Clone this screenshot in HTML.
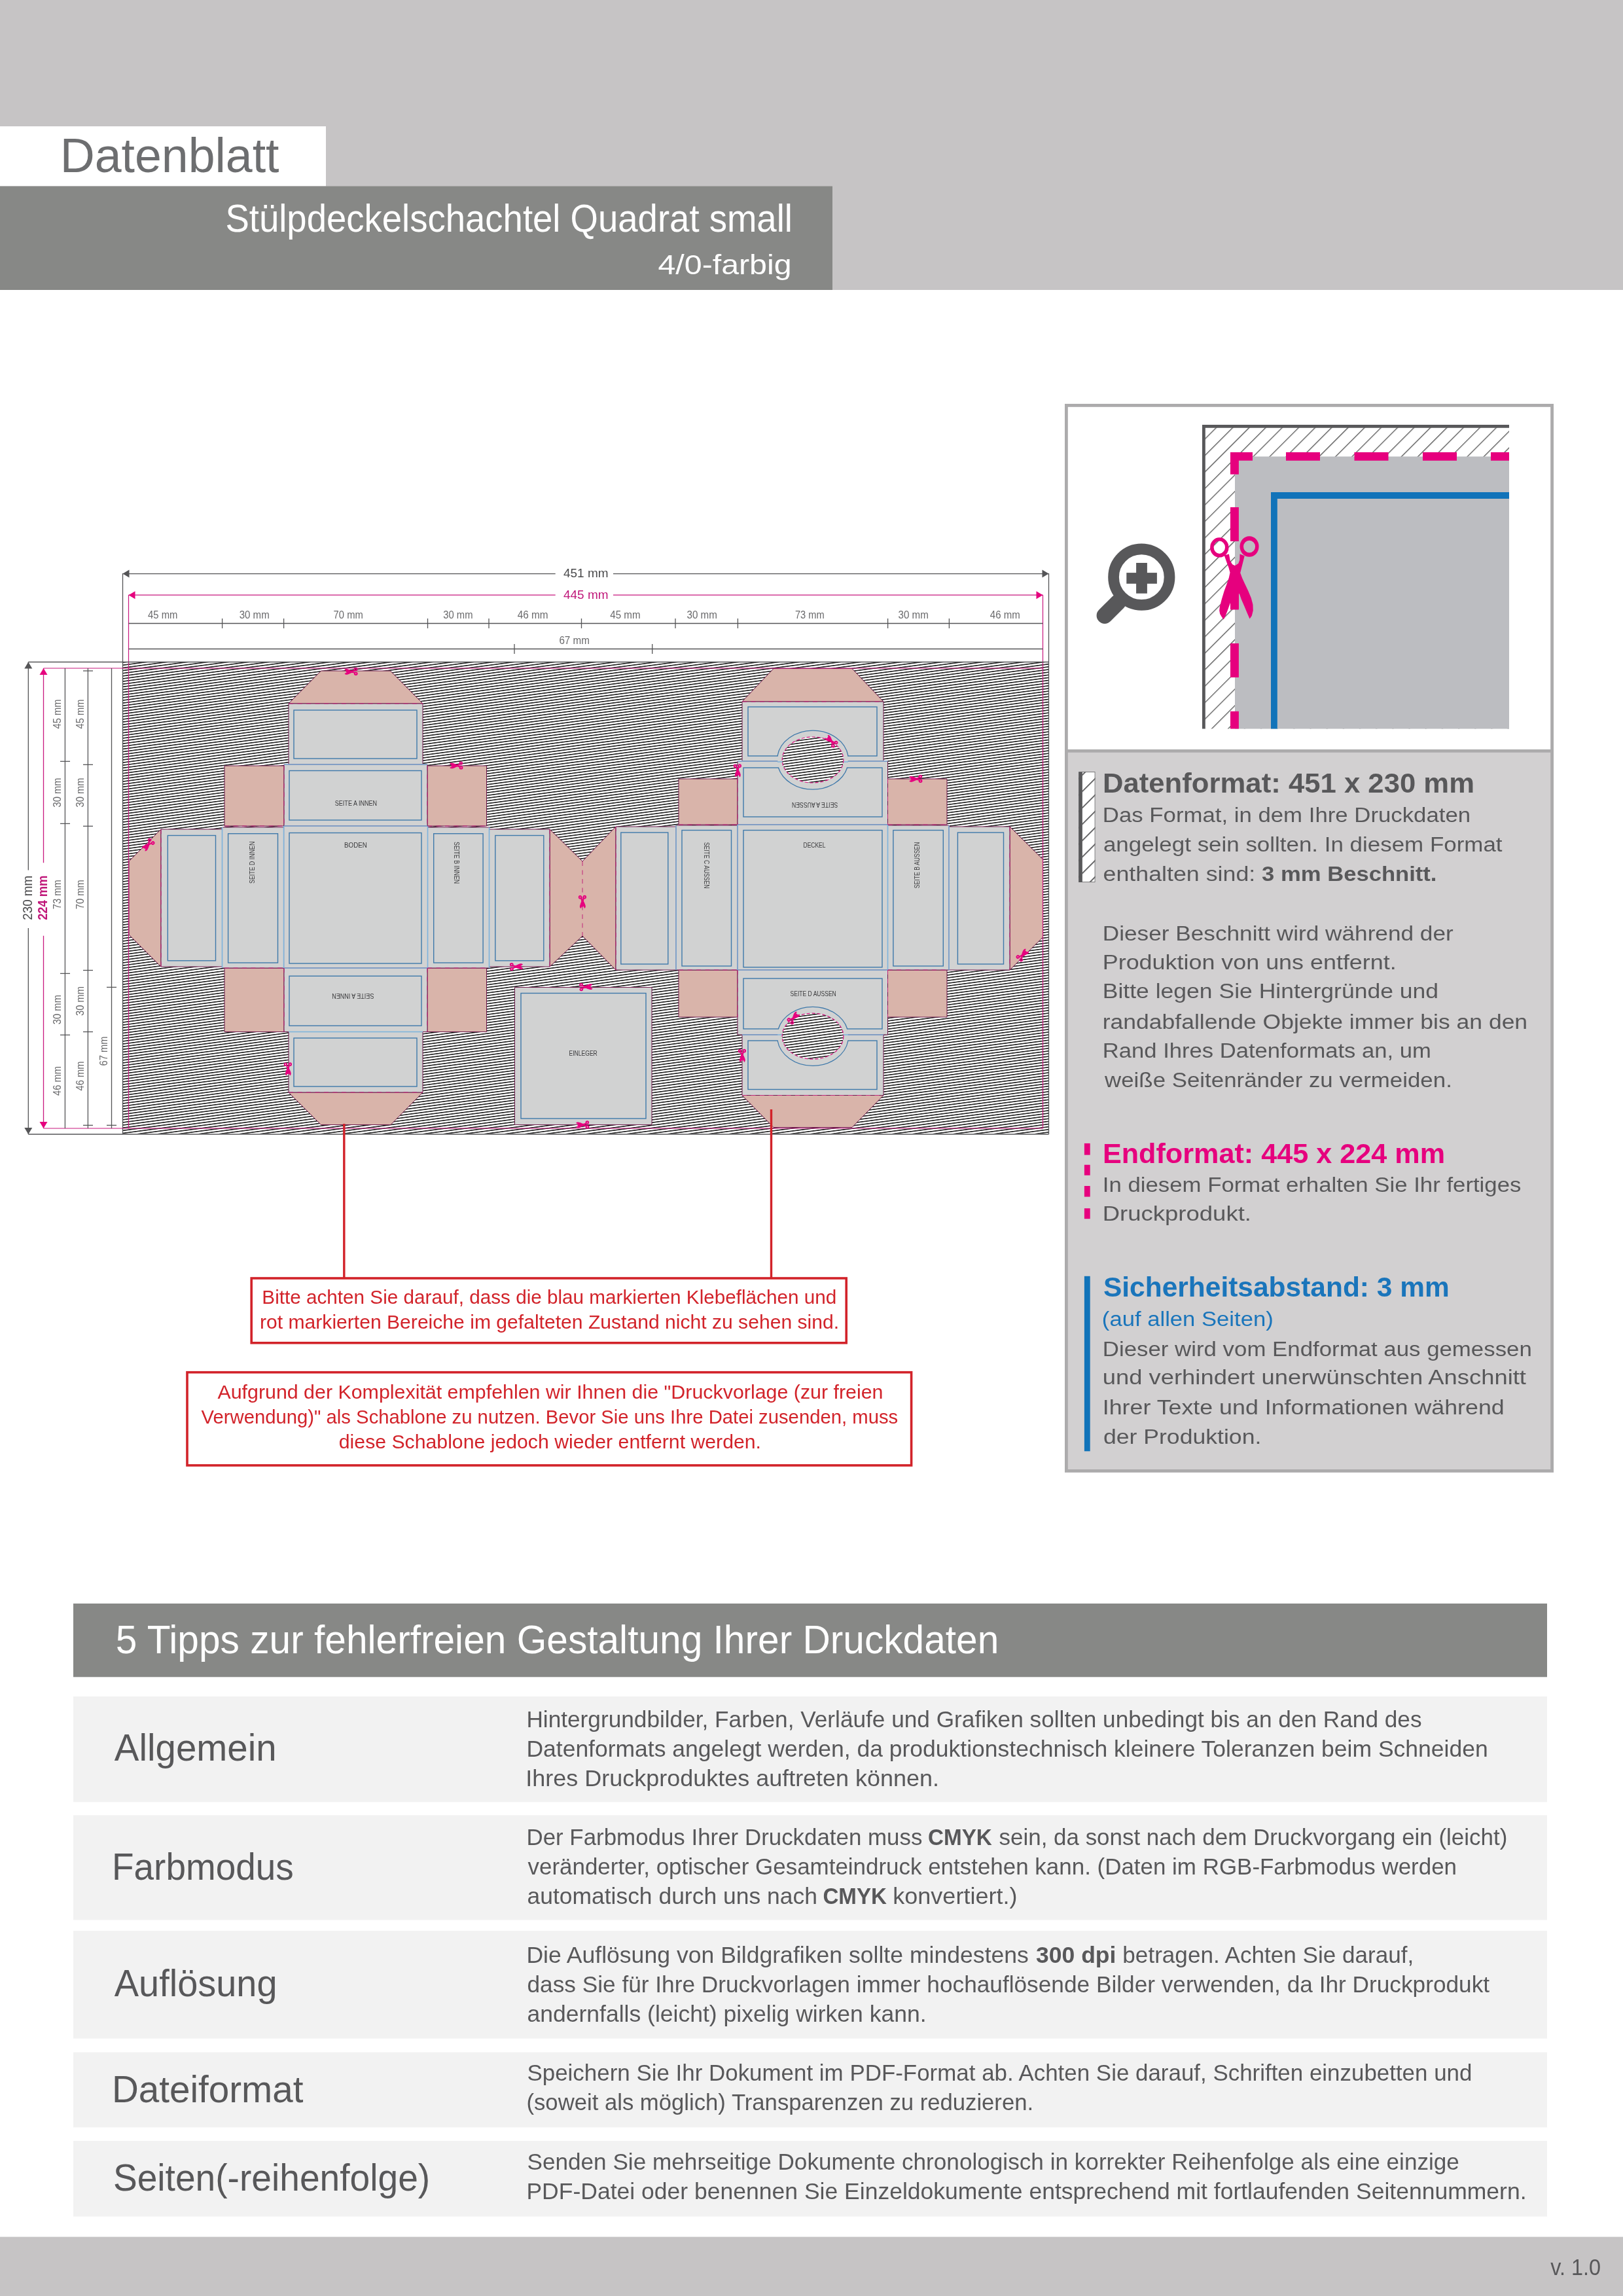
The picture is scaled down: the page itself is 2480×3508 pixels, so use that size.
<!DOCTYPE html><html><head><meta charset="utf-8"><title>Datenblatt</title>
<style>html,body{margin:0;padding:0;background:#fff;}svg{display:block;}text{font-family:"Liberation Sans",sans-serif;}svg{will-change:transform;}</style></head><body>
<svg width="2480" height="3508" viewBox="0 0 2480 3508">
<defs>
<pattern id="hatch" patternUnits="userSpaceOnUse" width="40" height="4.0981" patternTransform="rotate(-7.556) translate(0,2.73)"><rect x="0" y="0" width="40" height="4.0981" fill="#fff"/><rect x="0" y="0" width="40" height="1.5" fill="#111"/></pattern>
<pattern id="hatch45" patternUnits="userSpaceOnUse" width="17.8" height="17.8" patternTransform="rotate(45) translate(-4.5,0)"><rect x="0" y="0" width="17.8" height="17.8" fill="#fff"/><rect x="0" y="0" width="1.3" height="17.8" fill="#555"/></pattern>
<pattern id="hatchsm" patternUnits="userSpaceOnUse" width="17.7" height="17.7" patternTransform="rotate(45) translate(5.7,0)"><rect x="0" y="0" width="17.7" height="17.7" fill="#fff"/><rect x="0" y="0" width="1.8" height="17.7" fill="#58585a"/></pattern>
<symbol id="sc" overflow="visible"><g transform="translate(-47,-65.3) scale(0.065317)"><path fill="#e6007e" fill-rule="evenodd" d="M140,405 a217,232 0 1,0 434,0 a217,232 0 1,0 -434,0 Z M224,402 a133,148 0 1,1 266,0 a133,148 0 1,1 -266,0 Z M835,383 a222,242 0 1,0 444,0 a222,242 0 1,0 -444,0 Z M919,385 a138,145 0 1,1 276,0 a138,145 0 1,1 -276,0 Z "/><path fill="#e6007e" d="M470,590 L540,790 L575,880 L605,990 L580,1110 L530,1260 L470,1420 L410,1620 L365,1790 L355,1880 L370,1960 L410,2030 L455,2090 L500,2000 L550,1870 L590,1760 L612,1700 L612,1860 L808,1860 L808,1500 L822,1480 L870,1620 L940,1780 L1010,1950 L1065,2075 L1115,2000 L1145,1880 L1140,1740 L1100,1590 L1030,1420 L950,1250 L890,1120 L845,1000 L870,900 L905,760 L945,600 L835,560 L830,700 L800,780 L720,830 L660,800 L610,720 L580,560 Z"/></g></symbol>
<symbol id="scb" overflow="visible"><g transform="translate(-47,-65.3) scale(0.065317)" stroke="#e6007e" stroke-width="110" stroke-linejoin="round"><path fill="#e6007e" fill-rule="evenodd" d="M140,405 a217,232 0 1,0 434,0 a217,232 0 1,0 -434,0 Z M224,402 a133,148 0 1,1 266,0 a133,148 0 1,1 -266,0 Z M835,383 a222,242 0 1,0 444,0 a222,242 0 1,0 -444,0 Z M919,385 a138,145 0 1,1 276,0 a138,145 0 1,1 -276,0 Z "/><path fill="#e6007e" d="M470,590 L540,790 L575,880 L605,990 L580,1110 L530,1260 L470,1420 L410,1620 L365,1790 L355,1880 L370,1960 L410,2030 L455,2090 L500,2000 L550,1870 L590,1760 L612,1700 L612,1860 L808,1860 L808,1500 L822,1480 L870,1620 L940,1780 L1010,1950 L1065,2075 L1115,2000 L1145,1880 L1140,1740 L1100,1590 L1030,1420 L950,1250 L890,1120 L845,1000 L870,900 L905,760 L945,600 L835,560 L830,700 L800,780 L720,830 L660,800 L610,720 L580,560 Z"/></g></symbol>
</defs>
<rect x="0" y="0" width="2480" height="443" fill="#c6c4c5"/>
<rect x="0" y="193" width="498" height="91.5" fill="#fff"/>
<rect x="0" y="284.5" width="1272" height="158.5" fill="#878886"/>
<text x="91.73" y="262.80" font-size="73.838" fill="#6d6e70" textLength="334.78" lengthAdjust="spacingAndGlyphs">Datenblatt</text>
<text x="344.45" y="354.10" font-size="59.013" fill="#fff" textLength="866.42" lengthAdjust="spacingAndGlyphs">Stülpdeckelschachtel Quadrat small</text>
<text x="1005.50" y="419.00" font-size="42.879" fill="#fff" textLength="204.07" lengthAdjust="spacingAndGlyphs">4/0-farbig</text>
<rect x="188" y="1011.5" width="1414.5" height="720.5" fill="url(#hatch)"/>
<polygon points="441.0,1075.0 490.5,1025.0 596.5,1025.0 646.0,1075.0" fill="#d9b4aa" stroke="#6e1a4c" stroke-width="1.0"/>
<polygon points="441.0,1669.0 646.0,1669.0 597.0,1718.5 490.5,1718.5" fill="#d9b4aa" stroke="#6e1a4c" stroke-width="1.0"/>
<polygon points="343.0,1170.0 434.0,1170.0 434.0,1262.0 343.0,1262.0" fill="#d9b4aa" stroke="#6e1a4c" stroke-width="1.0"/>
<polygon points="653.0,1170.0 743.5,1170.0 743.5,1262.0 653.0,1262.0" fill="#d9b4aa" stroke="#6e1a4c" stroke-width="1.0"/>
<polygon points="343.0,1479.0 434.0,1479.0 434.0,1576.5 343.0,1576.5" fill="#d9b4aa" stroke="#6e1a4c" stroke-width="1.0"/>
<polygon points="653.0,1479.0 743.5,1479.0 743.5,1576.5 653.0,1576.5" fill="#d9b4aa" stroke="#6e1a4c" stroke-width="1.0"/>
<polygon points="246.0,1267.0 197.0,1316.0 197.0,1428.0 246.0,1477.0" fill="#d9b4aa" stroke="#6e1a4c" stroke-width="1.0"/>
<polygon points="840.0,1267.0 890.0,1316.0 941.0,1263.0 941.0,1482.0 890.0,1430.0 840.0,1477.0" fill="#d9b4aa" stroke="#6e1a4c" stroke-width="1.0"/>
<polygon points="441.0,1075.0 646.0,1075.0 646.0,1168.0 441.0,1168.0" fill="#d1d2d2" stroke="#6e1a4c" stroke-width="1.0"/>
<polygon points="434.0,1168.0 653.0,1168.0 653.0,1262.0 434.0,1262.0" fill="#d1d2d2" stroke="#6e1a4c" stroke-width="1.0"/>
<polygon points="246.0,1267.0 339.5,1267.0 339.5,1477.0 246.0,1477.0" fill="#d1d2d2" stroke="#6e1a4c" stroke-width="1.0"/>
<polygon points="339.5,1264.0 433.6,1264.0 433.6,1479.0 339.5,1479.0" fill="#d1d2d2" stroke="#6e1a4c" stroke-width="1.0"/>
<polygon points="433.6,1262.0 653.5,1262.0 653.5,1479.0 433.6,1479.0" fill="#d1d2d2" stroke="#6e1a4c" stroke-width="1.0"/>
<polygon points="653.5,1264.0 747.5,1264.0 747.5,1479.0 653.5,1479.0" fill="#d1d2d2" stroke="#6e1a4c" stroke-width="1.0"/>
<polygon points="747.5,1267.0 840.0,1267.0 840.0,1477.0 747.5,1477.0" fill="#d1d2d2" stroke="#6e1a4c" stroke-width="1.0"/>
<polygon points="434.0,1479.0 653.0,1479.0 653.0,1576.5 434.0,1576.5" fill="#d1d2d2" stroke="#6e1a4c" stroke-width="1.0"/>
<polygon points="441.0,1576.5 646.0,1576.5 646.0,1669.0 441.0,1669.0" fill="#d1d2d2" stroke="#6e1a4c" stroke-width="1.0"/>
<rect x="449.0" y="1085.0" width="188.0" height="74.0" fill="none" stroke="#3f79aa" stroke-width="1.4"/>
<rect x="442.0" y="1177.5" width="202.0" height="75.5" fill="none" stroke="#3f79aa" stroke-width="1.4"/>
<rect x="442.0" y="1272.5" width="202.0" height="199.5" fill="none" stroke="#3f79aa" stroke-width="1.4"/>
<rect x="256.3" y="1276.5" width="73.2" height="191.3" fill="none" stroke="#3f79aa" stroke-width="1.4"/>
<rect x="348.6" y="1273.7" width="75.9" height="197.3" fill="none" stroke="#3f79aa" stroke-width="1.4"/>
<rect x="662.7" y="1273.7" width="75.4" height="197.3" fill="none" stroke="#3f79aa" stroke-width="1.4"/>
<rect x="756.8" y="1276.5" width="74.0" height="191.3" fill="none" stroke="#3f79aa" stroke-width="1.4"/>
<rect x="442.0" y="1491.3" width="202.0" height="75.9" fill="none" stroke="#3f79aa" stroke-width="1.4"/>
<rect x="449.0" y="1586.0" width="188.0" height="74.0" fill="none" stroke="#3f79aa" stroke-width="1.4"/>
<line x1="434.0" y1="1168.0" x2="653.0" y2="1168.0" stroke="#7db3dc" stroke-width="1.6" />
<line x1="434.0" y1="1262.0" x2="653.0" y2="1262.0" stroke="#7db3dc" stroke-width="1.6" />
<line x1="434.0" y1="1479.0" x2="653.0" y2="1479.0" stroke="#7db3dc" stroke-width="1.6" />
<line x1="441.0" y1="1576.5" x2="646.0" y2="1576.5" stroke="#7db3dc" stroke-width="1.6" />
<line x1="339.5" y1="1264.0" x2="339.5" y2="1479.0" stroke="#7db3dc" stroke-width="1.6" />
<line x1="433.6" y1="1262.0" x2="433.6" y2="1479.0" stroke="#7db3dc" stroke-width="1.6" />
<line x1="653.5" y1="1262.0" x2="653.5" y2="1479.0" stroke="#7db3dc" stroke-width="1.6" />
<line x1="747.5" y1="1264.0" x2="747.5" y2="1479.0" stroke="#7db3dc" stroke-width="1.6" />
<line x1="441.0" y1="1075.0" x2="646.0" y2="1075.0" stroke="#c0277a" stroke-width="1.0" stroke-dasharray="7,6.5" />
<line x1="441.0" y1="1669.0" x2="646.0" y2="1669.0" stroke="#c0277a" stroke-width="1.0" stroke-dasharray="7,6.5" />
<line x1="246.0" y1="1267.0" x2="246.0" y2="1477.0" stroke="#c0277a" stroke-width="1.0" stroke-dasharray="7,6.5" />
<line x1="840.0" y1="1267.0" x2="840.0" y2="1477.0" stroke="#c0277a" stroke-width="1.0" stroke-dasharray="7,6.5" />
<line x1="890.0" y1="1316.0" x2="890.0" y2="1430.0" stroke="#c0277a" stroke-width="1.0" stroke-dasharray="7,6.5" />
<line x1="343.0" y1="1262.0" x2="434.0" y2="1262.0" stroke="#c0277a" stroke-width="1.0" stroke-dasharray="7,6.5" />
<line x1="653.0" y1="1262.0" x2="743.5" y2="1262.0" stroke="#c0277a" stroke-width="1.0" stroke-dasharray="7,6.5" />
<line x1="343.0" y1="1479.0" x2="434.0" y2="1479.0" stroke="#c0277a" stroke-width="1.0" stroke-dasharray="7,6.5" />
<line x1="653.0" y1="1479.0" x2="743.5" y2="1479.0" stroke="#c0277a" stroke-width="1.0" stroke-dasharray="7,6.5" />
<line x1="434.0" y1="1170.0" x2="434.0" y2="1262.0" stroke="#c0277a" stroke-width="1.0" stroke-dasharray="7,6.5" />
<line x1="653.0" y1="1170.0" x2="653.0" y2="1262.0" stroke="#c0277a" stroke-width="1.0" stroke-dasharray="7,6.5" />
<line x1="434.0" y1="1479.0" x2="434.0" y2="1576.5" stroke="#c0277a" stroke-width="1.0" stroke-dasharray="7,6.5" />
<line x1="653.0" y1="1479.0" x2="653.0" y2="1576.5" stroke="#c0277a" stroke-width="1.0" stroke-dasharray="7,6.5" />
<polygon points="1134.0,1072.0 1182.0,1021.5 1302.0,1021.5 1350.0,1072.0" fill="#d9b4aa" stroke="#6e1a4c" stroke-width="1.0"/>
<polygon points="1134.0,1673.5 1350.0,1673.5 1302.0,1722.5 1182.0,1722.5" fill="#d9b4aa" stroke="#6e1a4c" stroke-width="1.0"/>
<polygon points="1037.0,1190.0 1127.0,1190.0 1127.0,1260.0 1037.0,1260.0" fill="#d9b4aa" stroke="#6e1a4c" stroke-width="1.0"/>
<polygon points="1356.0,1190.0 1447.0,1190.0 1447.0,1260.0 1356.0,1260.0" fill="#d9b4aa" stroke="#6e1a4c" stroke-width="1.0"/>
<polygon points="1037.0,1482.0 1127.0,1482.0 1127.0,1554.0 1037.0,1554.0" fill="#d9b4aa" stroke="#6e1a4c" stroke-width="1.0"/>
<polygon points="1356.0,1482.0 1447.0,1482.0 1447.0,1554.0 1356.0,1554.0" fill="#d9b4aa" stroke="#6e1a4c" stroke-width="1.0"/>
<polygon points="1543.0,1263.0 1593.5,1313.0 1593.5,1432.0 1543.0,1482.0" fill="#d9b4aa" stroke="#6e1a4c" stroke-width="1.0"/>
<polygon points="1134.0,1072.0 1350.0,1072.0 1350.0,1163.0 1134.0,1163.0" fill="#d1d2d2" stroke="#6e1a4c" stroke-width="1.0"/>
<polygon points="1127.0,1163.0 1356.5,1163.0 1356.5,1260.0 1127.0,1260.0" fill="#d1d2d2" stroke="#6e1a4c" stroke-width="1.0"/>
<polygon points="941.0,1263.0 1033.0,1263.0 1033.0,1482.0 941.0,1482.0" fill="#d1d2d2" stroke="#6e1a4c" stroke-width="1.0"/>
<polygon points="1033.0,1261.0 1127.0,1261.0 1127.0,1482.0 1033.0,1482.0" fill="#d1d2d2" stroke="#6e1a4c" stroke-width="1.0"/>
<polygon points="1127.0,1260.0 1356.5,1260.0 1356.5,1482.0 1127.0,1482.0" fill="#d1d2d2" stroke="#6e1a4c" stroke-width="1.0"/>
<polygon points="1356.5,1261.0 1450.0,1261.0 1450.0,1482.0 1356.5,1482.0" fill="#d1d2d2" stroke="#6e1a4c" stroke-width="1.0"/>
<polygon points="1450.0,1263.0 1543.0,1263.0 1543.0,1482.0 1450.0,1482.0" fill="#d1d2d2" stroke="#6e1a4c" stroke-width="1.0"/>
<polygon points="1127.0,1482.0 1356.5,1482.0 1356.5,1581.0 1127.0,1581.0" fill="#d1d2d2" stroke="#6e1a4c" stroke-width="1.0"/>
<polygon points="1134.0,1581.0 1350.0,1581.0 1350.0,1673.5 1134.0,1673.5" fill="#d1d2d2" stroke="#6e1a4c" stroke-width="1.0"/>
<rect x="1143.0" y="1080.0" width="197.0" height="75.0" fill="none" stroke="#3f79aa" stroke-width="1.4"/>
<rect x="1136.0" y="1173.0" width="212.0" height="75.0" fill="none" stroke="#3f79aa" stroke-width="1.4"/>
<rect x="1136.0" y="1268.5" width="212.0" height="209.3" fill="none" stroke="#3f79aa" stroke-width="1.4"/>
<rect x="1042.0" y="1268.5" width="75.5" height="207.5" fill="none" stroke="#3f79aa" stroke-width="1.4"/>
<rect x="1364.9" y="1268.5" width="76.4" height="207.5" fill="none" stroke="#3f79aa" stroke-width="1.4"/>
<rect x="948.8" y="1272.0" width="72.0" height="201.0" fill="none" stroke="#3f79aa" stroke-width="1.4"/>
<rect x="1463.4" y="1272.0" width="70.1" height="201.0" fill="none" stroke="#3f79aa" stroke-width="1.4"/>
<rect x="1136.0" y="1495.0" width="212.0" height="77.0" fill="none" stroke="#3f79aa" stroke-width="1.4"/>
<rect x="1143.0" y="1590.0" width="197.0" height="74.5" fill="none" stroke="#3f79aa" stroke-width="1.4"/>
<line x1="1127.0" y1="1163.0" x2="1356.5" y2="1163.0" stroke="#7db3dc" stroke-width="1.6" />
<line x1="1127.0" y1="1260.0" x2="1356.5" y2="1260.0" stroke="#7db3dc" stroke-width="1.6" />
<line x1="1127.0" y1="1482.0" x2="1356.5" y2="1482.0" stroke="#7db3dc" stroke-width="1.6" />
<line x1="1134.0" y1="1581.0" x2="1350.0" y2="1581.0" stroke="#7db3dc" stroke-width="1.6" />
<line x1="1033.0" y1="1261.0" x2="1033.0" y2="1482.0" stroke="#7db3dc" stroke-width="1.6" />
<line x1="1127.0" y1="1260.0" x2="1127.0" y2="1482.0" stroke="#7db3dc" stroke-width="1.6" />
<line x1="1356.5" y1="1260.0" x2="1356.5" y2="1482.0" stroke="#7db3dc" stroke-width="1.6" />
<line x1="1450.0" y1="1261.0" x2="1450.0" y2="1482.0" stroke="#7db3dc" stroke-width="1.6" />
<line x1="1134.0" y1="1072.0" x2="1350.0" y2="1072.0" stroke="#c0277a" stroke-width="1.0" stroke-dasharray="7,6.5" />
<line x1="1134.0" y1="1673.5" x2="1350.0" y2="1673.5" stroke="#c0277a" stroke-width="1.0" stroke-dasharray="7,6.5" />
<line x1="941.0" y1="1263.0" x2="941.0" y2="1482.0" stroke="#c0277a" stroke-width="1.0" stroke-dasharray="7,6.5" />
<line x1="1543.0" y1="1263.0" x2="1543.0" y2="1482.0" stroke="#c0277a" stroke-width="1.0" stroke-dasharray="7,6.5" />
<line x1="1037.0" y1="1260.0" x2="1127.0" y2="1260.0" stroke="#c0277a" stroke-width="1.0" stroke-dasharray="7,6.5" />
<line x1="1356.5" y1="1260.0" x2="1447.0" y2="1260.0" stroke="#c0277a" stroke-width="1.0" stroke-dasharray="7,6.5" />
<line x1="1037.0" y1="1482.0" x2="1127.0" y2="1482.0" stroke="#c0277a" stroke-width="1.0" stroke-dasharray="7,6.5" />
<line x1="1356.5" y1="1482.0" x2="1447.0" y2="1482.0" stroke="#c0277a" stroke-width="1.0" stroke-dasharray="7,6.5" />
<line x1="1127.0" y1="1190.0" x2="1127.0" y2="1260.0" stroke="#c0277a" stroke-width="1.0" stroke-dasharray="7,6.5" />
<line x1="1356.5" y1="1190.0" x2="1356.5" y2="1260.0" stroke="#c0277a" stroke-width="1.0" stroke-dasharray="7,6.5" />
<line x1="1127.0" y1="1482.0" x2="1127.0" y2="1554.0" stroke="#c0277a" stroke-width="1.0" stroke-dasharray="7,6.5" />
<line x1="1356.5" y1="1482.0" x2="1356.5" y2="1554.0" stroke="#c0277a" stroke-width="1.0" stroke-dasharray="7,6.5" />
<ellipse cx="1242" cy="1161.3" rx="53.7" ry="44.2" fill="#d1d2d2"/>
<path d="M1188.0,1155 A54.5,45 0 0,1 1296.0,1155" fill="none" stroke="#3f79aa" stroke-width="1.3"/>
<path d="M1189.4,1173 A54.5,45 0 0,0 1294.6,1173" fill="none" stroke="#3f79aa" stroke-width="1.3"/>
<line x1="1188.0" y1="1164.0" x2="1296.0" y2="1164.0" stroke="#7db3dc" stroke-width="1.6" />
<ellipse cx="1242" cy="1161.0" rx="46.8" ry="35" fill="url(#hatch)" stroke="#d4147f" stroke-width="1.2" stroke-dasharray="5,3"/>
<ellipse cx="1242" cy="1583.5" rx="53.7" ry="44.2" fill="#d1d2d2"/>
<path d="M1189.3,1572 A54.5,45 0 0,1 1294.7,1572" fill="none" stroke="#3f79aa" stroke-width="1.3"/>
<path d="M1188.1,1590 A54.5,45 0 0,0 1295.9,1590" fill="none" stroke="#3f79aa" stroke-width="1.3"/>
<line x1="1188.0" y1="1581.0" x2="1296.0" y2="1581.0" stroke="#7db3dc" stroke-width="1.6" />
<ellipse cx="1242" cy="1583.2" rx="46.8" ry="35" fill="url(#hatch)" stroke="#d4147f" stroke-width="1.2" stroke-dasharray="5,3"/>
<polygon points="786.5,1508.5 996.0,1508.5 996.0,1718.5 786.5,1718.5" fill="#d1d2d2" stroke="#6e1a4c" stroke-width="1.0"/>
<rect x="796.0" y="1517.5" width="191.0" height="191.5" fill="none" stroke="#3f79aa" stroke-width="1.4"/>
<text x="511.80" y="1230.70" font-size="11.628" fill="#3a3a3c" textLength="64.29" lengthAdjust="spacingAndGlyphs">SEITE A INNEN</text>
<text x="526.00" y="1295.00" font-size="11.628" fill="#3a3a3c" textLength="34.92" lengthAdjust="spacingAndGlyphs">BODEN</text>
<g transform="translate(385.0,1318.0) rotate(-90)">
<text x="-32.00" y="4.00" font-size="11.628" fill="#3a3a3c" textLength="64.29" lengthAdjust="spacingAndGlyphs">SEITE D INNEN</text>
</g>
<g transform="translate(697.7,1318.0) rotate(90)">
<text x="-32.00" y="4.00" font-size="11.628" fill="#3a3a3c" textLength="64.29" lengthAdjust="spacingAndGlyphs">SEITE B INNEN</text>
</g>
<g transform="translate(539.4,1522.0) rotate(180)">
<text x="-32.00" y="4.00" font-size="11.628" fill="#3a3a3c" textLength="64.29" lengthAdjust="spacingAndGlyphs">SEITE A INNEN</text>
</g>
<g transform="translate(1245.2,1230.0) rotate(180)">
<text x="-35.00" y="4.00" font-size="11.628" fill="#3a3a3c" textLength="70.28" lengthAdjust="spacingAndGlyphs">SEITE A AUSSEN</text>
</g>
<text x="1227.50" y="1295.00" font-size="11.628" fill="#3a3a3c" textLength="34.00" lengthAdjust="spacingAndGlyphs">DECKEL</text>
<g transform="translate(1080.4,1322.0) rotate(90)">
<text x="-35.25" y="4.00" font-size="11.628" fill="#3a3a3c" textLength="70.78" lengthAdjust="spacingAndGlyphs">SEITE C AUSSEN</text>
</g>
<g transform="translate(1400.5,1322.0) rotate(-90)">
<text x="-35.25" y="4.00" font-size="11.628" fill="#3a3a3c" textLength="70.78" lengthAdjust="spacingAndGlyphs">SEITE B AUSSEN</text>
</g>
<text x="1207.50" y="1522.00" font-size="11.628" fill="#3a3a3c" textLength="70.28" lengthAdjust="spacingAndGlyphs">SEITE D AUSSEN</text>
<text x="869.50" y="1613.00" font-size="11.628" fill="#3a3a3c" textLength="43.28" lengthAdjust="spacingAndGlyphs">EINLEGER</text>
<use href="#scb" transform="translate(537.7,1026.0) rotate(90) scale(0.15)"/>
<use href="#scb" transform="translate(698.5,1169.6) rotate(90) scale(0.15)"/>
<use href="#scb" transform="translate(227.0,1290.0) rotate(45) scale(0.15)"/>
<use href="#scb" transform="translate(890.0,1376.6) rotate(0) scale(0.15)"/>
<use href="#scb" transform="translate(1127.0,1176.1) rotate(0) scale(0.15)"/>
<use href="#scb" transform="translate(1271.0,1133.0) rotate(135) scale(0.15)"/>
<use href="#scb" transform="translate(1400.5,1190.0) rotate(90) scale(0.15)"/>
<use href="#scb" transform="translate(787.8,1477.0) rotate(-90) scale(0.15)"/>
<use href="#scb" transform="translate(894.1,1508.0) rotate(-90) scale(0.15)"/>
<use href="#scb" transform="translate(891.5,1718.5) rotate(90) scale(0.15)"/>
<use href="#scb" transform="translate(1212.0,1556.0) rotate(-135) scale(0.15)"/>
<use href="#scb" transform="translate(1134.0,1611.6) rotate(0) scale(0.15)"/>
<use href="#scb" transform="translate(1562.0,1460.0) rotate(-135) scale(0.15)"/>
<use href="#scb" transform="translate(440.0,1632.1) rotate(0) scale(0.15)"/>
<line x1="187.5" y1="876.6" x2="848.7" y2="876.6" stroke="#555557" stroke-width="1.3" />
<line x1="937.0" y1="876.6" x2="1602.5" y2="876.6" stroke="#555557" stroke-width="1.3" />
<polygon points="187.5,876.6 197.5,870.6 197.5,882.6" fill="#555557"/>
<polygon points="1602.5,876.6 1592.5,870.6 1592.5,882.6" fill="#555557"/>
<text x="861.00" y="882.00" font-size="18.605" fill="#4a4a4c" textLength="68.50" lengthAdjust="spacingAndGlyphs">451 mm</text>
<line x1="196.5" y1="909.2" x2="848.7" y2="909.2" stroke="#c8197f" stroke-width="1.3" />
<line x1="937.0" y1="909.2" x2="1593.5" y2="909.2" stroke="#c8197f" stroke-width="1.3" />
<polygon points="196.5,909.2 206.5,903.2 206.5,915.2" fill="#e6007e"/>
<polygon points="1593.5,909.2 1583.5,903.2 1583.5,915.2" fill="#e6007e"/>
<text x="861.00" y="915.00" font-size="18.605" fill="#c0187a" textLength="68.50" lengthAdjust="spacingAndGlyphs">445 mm</text>
<line x1="187.5" y1="876.0" x2="187.5" y2="1733.0" stroke="#555557" stroke-width="1.3" />
<line x1="1602.5" y1="876.0" x2="1602.5" y2="1733.0" stroke="#555557" stroke-width="1.3" />
<line x1="196.5" y1="909.0" x2="196.5" y2="1724.0" stroke="#c8197f" stroke-width="1.2" />
<line x1="1593.5" y1="909.0" x2="1593.5" y2="1724.0" stroke="#c8197f" stroke-width="1.2" />
<line x1="43.3" y1="1011.5" x2="1602.5" y2="1011.5" stroke="#555557" stroke-width="1.3" />
<line x1="43.3" y1="1733.0" x2="1602.5" y2="1733.0" stroke="#555557" stroke-width="1.3" />
<line x1="66.5" y1="1021.0" x2="1593.5" y2="1021.0" stroke="#c8197f" stroke-width="1.2" />
<line x1="66.5" y1="1724.0" x2="1593.5" y2="1724.0" stroke="#c8197f" stroke-width="1.2" />
<line x1="196.5" y1="952.5" x2="1593.5" y2="952.5" stroke="#555557" stroke-width="1.3" />
<line x1="339.6" y1="945.0" x2="339.6" y2="960.0" stroke="#555557" stroke-width="1.3" />
<line x1="433.6" y1="945.0" x2="433.6" y2="960.0" stroke="#555557" stroke-width="1.3" />
<line x1="653.5" y1="945.0" x2="653.5" y2="960.0" stroke="#555557" stroke-width="1.3" />
<line x1="747.0" y1="945.0" x2="747.0" y2="960.0" stroke="#555557" stroke-width="1.3" />
<line x1="888.5" y1="945.0" x2="888.5" y2="960.0" stroke="#555557" stroke-width="1.3" />
<line x1="1032.0" y1="945.0" x2="1032.0" y2="960.0" stroke="#555557" stroke-width="1.3" />
<line x1="1127.4" y1="945.0" x2="1127.4" y2="960.0" stroke="#555557" stroke-width="1.3" />
<line x1="1356.6" y1="945.0" x2="1356.6" y2="960.0" stroke="#555557" stroke-width="1.3" />
<line x1="1450.4" y1="945.0" x2="1450.4" y2="960.0" stroke="#555557" stroke-width="1.3" />
<text x="226.00" y="945.00" font-size="15.843" fill="#6a6a6c" textLength="45.37" lengthAdjust="spacingAndGlyphs">45 mm</text>
<text x="365.70" y="945.00" font-size="15.843" fill="#6a6a6c" textLength="45.98" lengthAdjust="spacingAndGlyphs">30 mm</text>
<text x="509.60" y="945.00" font-size="15.843" fill="#6a6a6c" textLength="45.17" lengthAdjust="spacingAndGlyphs">70 mm</text>
<text x="677.30" y="945.00" font-size="15.843" fill="#6a6a6c" textLength="45.17" lengthAdjust="spacingAndGlyphs">30 mm</text>
<text x="790.70" y="945.00" font-size="15.843" fill="#6a6a6c" textLength="46.98" lengthAdjust="spacingAndGlyphs">46 mm</text>
<text x="932.30" y="945.00" font-size="15.843" fill="#6a6a6c" textLength="46.28" lengthAdjust="spacingAndGlyphs">45 mm</text>
<text x="1049.50" y="945.00" font-size="15.843" fill="#6a6a6c" textLength="46.38" lengthAdjust="spacingAndGlyphs">30 mm</text>
<text x="1214.90" y="945.00" font-size="15.843" fill="#6a6a6c" textLength="44.77" lengthAdjust="spacingAndGlyphs">73 mm</text>
<text x="1372.50" y="945.00" font-size="15.843" fill="#6a6a6c" textLength="46.28" lengthAdjust="spacingAndGlyphs">30 mm</text>
<text x="1512.80" y="945.00" font-size="15.843" fill="#6a6a6c" textLength="45.88" lengthAdjust="spacingAndGlyphs">46 mm</text>
<line x1="196.5" y1="991.5" x2="1593.5" y2="991.5" stroke="#555557" stroke-width="1.3" />
<line x1="786.0" y1="984.0" x2="786.0" y2="999.0" stroke="#555557" stroke-width="1.3" />
<line x1="996.7" y1="984.0" x2="996.7" y2="999.0" stroke="#555557" stroke-width="1.3" />
<text x="854.40" y="983.60" font-size="15.843" fill="#6a6a6c" textLength="46.38" lengthAdjust="spacingAndGlyphs">67 mm</text>
<line x1="43.3" y1="1011.5" x2="43.3" y2="1329.4" stroke="#555557" stroke-width="1.3" />
<line x1="43.3" y1="1418.1" x2="43.3" y2="1733.0" stroke="#555557" stroke-width="1.3" />
<polygon points="43.3,1011.5 37.3,1021.5 49.3,1021.5" fill="#555557"/>
<polygon points="43.3,1733.0 37.3,1723.0 49.3,1723.0" fill="#555557"/>
<line x1="66.5" y1="1021.0" x2="66.5" y2="1318.3" stroke="#c8197f" stroke-width="1.3" />
<line x1="66.5" y1="1429.8" x2="66.5" y2="1724.0" stroke="#c8197f" stroke-width="1.3" />
<polygon points="66.5,1021.0 60.5,1031.0 72.5,1031.0" fill="#e6007e"/>
<polygon points="66.5,1724.0 60.5,1714.0 72.5,1714.0" fill="#e6007e"/>
<line x1="99.4" y1="1021.0" x2="99.4" y2="1724.0" stroke="#555557" stroke-width="1.3" />
<line x1="134.4" y1="1021.0" x2="134.4" y2="1724.0" stroke="#555557" stroke-width="1.3" />
<line x1="170.5" y1="1021.0" x2="170.5" y2="1724.0" stroke="#555557" stroke-width="1.3" />
<line x1="92.0" y1="1163.3" x2="107.0" y2="1163.3" stroke="#555557" stroke-width="1.3" />
<line x1="92.0" y1="1258.4" x2="107.0" y2="1258.4" stroke="#555557" stroke-width="1.3" />
<line x1="92.0" y1="1487.4" x2="107.0" y2="1487.4" stroke="#555557" stroke-width="1.3" />
<line x1="92.0" y1="1581.3" x2="107.0" y2="1581.3" stroke="#555557" stroke-width="1.3" />
<line x1="127.0" y1="1025.0" x2="142.0" y2="1025.0" stroke="#555557" stroke-width="1.3" />
<line x1="127.0" y1="1168.3" x2="142.0" y2="1168.3" stroke="#555557" stroke-width="1.3" />
<line x1="127.0" y1="1262.3" x2="142.0" y2="1262.3" stroke="#555557" stroke-width="1.3" />
<line x1="127.0" y1="1482.5" x2="142.0" y2="1482.5" stroke="#555557" stroke-width="1.3" />
<line x1="127.0" y1="1576.5" x2="142.0" y2="1576.5" stroke="#555557" stroke-width="1.3" />
<line x1="127.0" y1="1719.3" x2="142.0" y2="1719.3" stroke="#555557" stroke-width="1.3" />
<line x1="163.0" y1="1508.4" x2="178.0" y2="1508.4" stroke="#555557" stroke-width="1.3" />
<line x1="163.0" y1="1719.3" x2="178.0" y2="1719.3" stroke="#555557" stroke-width="1.3" />
<g transform="translate(93.2,1091.0) rotate(-90)">
<text x="-22.50" y="0.00" font-size="15.843" fill="#6a6a6c" textLength="45.17" lengthAdjust="spacingAndGlyphs">45 mm</text>
</g>
<g transform="translate(93.2,1211.0) rotate(-90)">
<text x="-22.50" y="0.00" font-size="15.843" fill="#6a6a6c" textLength="45.17" lengthAdjust="spacingAndGlyphs">30 mm</text>
</g>
<g transform="translate(93.2,1366.8) rotate(-90)">
<text x="-22.50" y="0.00" font-size="15.843" fill="#6a6a6c" textLength="45.17" lengthAdjust="spacingAndGlyphs">73 mm</text>
</g>
<g transform="translate(93.2,1542.7) rotate(-90)">
<text x="-22.50" y="0.00" font-size="15.843" fill="#6a6a6c" textLength="45.17" lengthAdjust="spacingAndGlyphs">30 mm</text>
</g>
<g transform="translate(93.2,1651.5) rotate(-90)">
<text x="-22.50" y="0.00" font-size="15.843" fill="#6a6a6c" textLength="45.17" lengthAdjust="spacingAndGlyphs">46 mm</text>
</g>
<g transform="translate(128.2,1091.0) rotate(-90)">
<text x="-22.50" y="0.00" font-size="15.843" fill="#6a6a6c" textLength="45.17" lengthAdjust="spacingAndGlyphs">45 mm</text>
</g>
<g transform="translate(128.2,1211.0) rotate(-90)">
<text x="-22.50" y="0.00" font-size="15.843" fill="#6a6a6c" textLength="45.17" lengthAdjust="spacingAndGlyphs">30 mm</text>
</g>
<g transform="translate(128.2,1366.8) rotate(-90)">
<text x="-22.50" y="0.00" font-size="15.843" fill="#6a6a6c" textLength="45.17" lengthAdjust="spacingAndGlyphs">70 mm</text>
</g>
<g transform="translate(128.2,1529.5) rotate(-90)">
<text x="-22.50" y="0.00" font-size="15.843" fill="#6a6a6c" textLength="45.17" lengthAdjust="spacingAndGlyphs">30 mm</text>
</g>
<g transform="translate(128.2,1644.0) rotate(-90)">
<text x="-22.50" y="0.00" font-size="15.843" fill="#6a6a6c" textLength="45.17" lengthAdjust="spacingAndGlyphs">46 mm</text>
</g>
<g transform="translate(164.0,1606.0) rotate(-90)">
<text x="-22.50" y="0.00" font-size="15.843" fill="#6a6a6c" textLength="45.17" lengthAdjust="spacingAndGlyphs">67 mm</text>
</g>
<g transform="translate(49.4,1372.3) rotate(-90)">
<text x="-33.50" y="0.00" font-size="19.332" fill="#4a4a4c" textLength="68.07" lengthAdjust="spacingAndGlyphs">230 mm</text>
</g>
<g transform="translate(72.2,1372.3) rotate(-90)">
<text x="-33.50" y="0.00" font-size="19.332" fill="#c0187a" font-weight="bold" textLength="68.12" lengthAdjust="spacingAndGlyphs">224 mm</text>
</g>
<line x1="525.8" y1="1717.0" x2="525.8" y2="1953.0" stroke="#d2232a" stroke-width="3.4" />
<line x1="1178.5" y1="1695.0" x2="1178.5" y2="1953.0" stroke="#d2232a" stroke-width="3.4" />
<rect x="384.2" y="1953" width="909" height="98.8" fill="#fff" stroke="#d2232a" stroke-width="3.6"/>
<rect x="286" y="2096.7" width="1106.6" height="142.2" fill="#fff" stroke="#d2232a" stroke-width="3.6"/>
<text x="400.34" y="1991.50" font-size="30.233" fill="#d2232a" textLength="877.94" lengthAdjust="spacingAndGlyphs">Bitte achten Sie darauf, dass die blau markierten Klebeflächen und</text>
<text x="397.01" y="2029.70" font-size="30.233" fill="#d2232a" textLength="885.08" lengthAdjust="spacingAndGlyphs">rot markierten Bereiche im gefalteten Zustand nicht zu sehen sind.</text>
<text x="332.40" y="2136.70" font-size="30.233" fill="#d2232a" textLength="1017.12" lengthAdjust="spacingAndGlyphs">Aufgrund der Komplexität empfehlen wir Ihnen die "Druckvorlage (zur freien</text>
<text x="307.60" y="2174.60" font-size="30.233" fill="#d2232a" textLength="1064.61" lengthAdjust="spacingAndGlyphs">Verwendung)" als Schablone zu nutzen. Bevor Sie uns Ihre Datei zusenden, muss</text>
<text x="517.80" y="2212.80" font-size="30.233" fill="#d2232a" textLength="645.20" lengthAdjust="spacingAndGlyphs">diese Schablone jedoch wieder entfernt werden.</text>
<rect x="1629.4" y="619.4" width="742.2" height="528" fill="#fff"/>
<rect x="1629.4" y="1147.5" width="742.2" height="1100" fill="#d2d0d1"/>
<rect x="1629.4" y="619.4" width="742.2" height="1628" fill="none" stroke="#acabac" stroke-width="4.8"/>
<line x1="1629" y1="1147.4" x2="2372" y2="1147.4" stroke="#acabac" stroke-width="4.7"/>
<rect x="1839.4" y="651.4" width="466.6" height="462" fill="url(#hatch45)"/>
<rect x="1887" y="697.5" width="419" height="416" fill="#bcbdc1"/>
<path d="M1839.4,1113.5 V651.4 H2306" fill="none" stroke="#58585a" stroke-width="4.8"/>
<path d="M1880,691 H1914 V703.8 H1892.9 V724.7 H1880 Z" fill="#e6007e"/>
<rect x="1965" y="691" width="52" height="12.8" fill="#e6007e"/>
<rect x="2069.5" y="691" width="52.0" height="12.8" fill="#e6007e"/>
<rect x="2174" y="691" width="52" height="12.8" fill="#e6007e"/>
<rect x="2278" y="691" width="28" height="12.8" fill="#e6007e"/>
<rect x="1880" y="775" width="12.9" height="52.0" fill="#e6007e"/>
<rect x="1880" y="878.4" width="12.9" height="52.0" fill="#e6007e"/>
<rect x="1880" y="983" width="12.9" height="52.0" fill="#e6007e"/>
<rect x="1880" y="1086.8" width="12.9" height="26.7" fill="#e6007e"/>
<path d="M1946.9,1113.5 V757 H2306" fill="none" stroke="#1173b9" stroke-width="9.8"/>
<use href="#sc" transform="translate(1887,875.3)"/>
<g fill="#58585a"><circle cx="1744.3" cy="881.7" r="42.75" fill="none" stroke="#58585a" stroke-width="16.7"/><rect x="1721.3" y="875.1" width="46.6" height="16.7"/><rect x="1736.1" y="860" width="16.8" height="46.7"/><line x1="1708.3" y1="920.3" x2="1688" y2="940.6" stroke="#58585a" stroke-width="24.8" stroke-linecap="round"/></g>
<rect x="1648.1" y="1179.1" width="25.4" height="168.9" fill="url(#hatchsm)"/>
<rect x="1648.1" y="1179.1" width="5.6" height="168.9" fill="#58585a"/>
<rect x="1653.5" y="1179.5" width="19.6" height="168.1" fill="none" stroke="#6a6a6c" stroke-width="0.9"/>
<rect x="1656.9" y="1746.9" width="8.8" height="17.7" fill="#e6007e"/>
<rect x="1656.9" y="1779.7" width="8.8" height="16.0" fill="#e6007e"/>
<rect x="1656.9" y="1812" width="8.8" height="16.5" fill="#e6007e"/>
<rect x="1656.9" y="1846.2" width="8.8" height="16.0" fill="#e6007e"/>
<rect x="1656.9" y="1949.8" width="8.8" height="267.5" fill="#1173b9"/>
<text x="1684.93" y="1211.00" font-size="42.152" fill="#58585a" font-weight="bold" textLength="568.13" lengthAdjust="spacingAndGlyphs">Datenformat: 451 x 230 mm</text>
<text x="1684.84" y="1255.80" font-size="32.268" fill="#58585a" textLength="562.24" lengthAdjust="spacingAndGlyphs">Das Format, in dem Ihre Druckdaten</text>
<text x="1685.92" y="1300.70" font-size="32.268" fill="#58585a" textLength="609.64" lengthAdjust="spacingAndGlyphs">angelegt sein sollten. In diesem Format</text>
<text x="1685.49" y="1346.40" font-size="32.268" fill="#58585a" textLength="232.78" lengthAdjust="spacingAndGlyphs">enthalten sind:</text>
<text x="1928.10" y="1346.40" font-size="32.268" fill="#58585a" font-weight="bold" textLength="267.40" lengthAdjust="spacingAndGlyphs">3 mm Beschnitt.</text>
<text x="1684.82" y="1436.60" font-size="32.268" fill="#58585a" textLength="535.90" lengthAdjust="spacingAndGlyphs">Dieser Beschnitt wird während der</text>
<text x="1684.77" y="1480.90" font-size="32.268" fill="#58585a" textLength="448.91" lengthAdjust="spacingAndGlyphs">Produktion von uns entfernt.</text>
<text x="1684.80" y="1525.30" font-size="32.268" fill="#58585a" textLength="513.23" lengthAdjust="spacingAndGlyphs">Bitte legen Sie Hintergründe und</text>
<text x="1684.80" y="1571.90" font-size="32.268" fill="#58585a" textLength="649.33" lengthAdjust="spacingAndGlyphs">randabfallende Objekte immer bis an den</text>
<text x="1684.85" y="1616.20" font-size="32.268" fill="#58585a" textLength="501.95" lengthAdjust="spacingAndGlyphs">Rand Ihres Datenformats an, um</text>
<text x="1688.08" y="1660.60" font-size="32.268" fill="#58585a" textLength="530.74" lengthAdjust="spacingAndGlyphs">weiße Seitenränder zu vermeiden.</text>
<text x="1684.95" y="1776.60" font-size="42.152" fill="#e6007e" font-weight="bold" textLength="523.18" lengthAdjust="spacingAndGlyphs">Endformat: 445 x 224 mm</text>
<text x="1684.84" y="1820.90" font-size="32.268" fill="#58585a" textLength="639.57" lengthAdjust="spacingAndGlyphs">In diesem Format erhalten Sie Ihr fertiges</text>
<text x="1684.74" y="1865.30" font-size="32.268" fill="#58585a" textLength="227.18" lengthAdjust="spacingAndGlyphs">Druckprodukt.</text>
<text x="1685.99" y="1980.80" font-size="42.152" fill="#1a75bb" font-weight="bold" textLength="528.80" lengthAdjust="spacingAndGlyphs">Sicherheitsabstand: 3 mm</text>
<text x="1683.85" y="2025.60" font-size="32.268" fill="#1a75bb" textLength="261.92" lengthAdjust="spacingAndGlyphs">(auf allen Seiten)</text>
<text x="1684.84" y="2071.80" font-size="32.268" fill="#58585a" textLength="655.95" lengthAdjust="spacingAndGlyphs">Dieser wird vom Endformat aus gemessen</text>
<text x="1684.75" y="2115.20" font-size="32.268" fill="#58585a" textLength="647.20" lengthAdjust="spacingAndGlyphs">und verhindert unerwünschten Anschnitt</text>
<text x="1684.78" y="2160.50" font-size="32.268" fill="#58585a" textLength="613.96" lengthAdjust="spacingAndGlyphs">Ihrer Texte und Informationen während</text>
<text x="1685.90" y="2206.20" font-size="32.268" fill="#58585a" textLength="241.47" lengthAdjust="spacingAndGlyphs">der Produktion.</text>
<rect x="112" y="2450" width="2252" height="112.3" fill="#878886"/>
<text x="176.85" y="2526.30" font-size="60.175" fill="#fff" textLength="1349.51" lengthAdjust="spacingAndGlyphs">5 Tipps zur fehlerfreien Gestaltung Ihrer Druckdaten</text>
<rect x="112" y="2592" width="2252" height="161.4" fill="#f2f2f2"/>
<rect x="112" y="2773.4" width="2252" height="160.1" fill="#f2f2f2"/>
<rect x="112" y="2950" width="2252" height="164.6" fill="#f2f2f2"/>
<rect x="112" y="3135.6" width="2252" height="114.8" fill="#f2f2f2"/>
<rect x="112" y="3270.9" width="2252" height="115.7" fill="#f2f2f2"/>
<text x="174.80" y="2689.50" font-size="58.141" fill="#58585a" textLength="247.83" lengthAdjust="spacingAndGlyphs">Allgemein</text>
<text x="171.02" y="2871.70" font-size="58.141" fill="#58585a" textLength="277.73" lengthAdjust="spacingAndGlyphs">Farbmodus</text>
<text x="174.80" y="3049.80" font-size="58.141" fill="#58585a" textLength="248.80" lengthAdjust="spacingAndGlyphs">Auflösung</text>
<text x="170.90" y="3212.00" font-size="58.141" fill="#58585a" textLength="292.54" lengthAdjust="spacingAndGlyphs">Dateiformat</text>
<text x="172.90" y="3346.70" font-size="58.141" fill="#58585a" textLength="484.28" lengthAdjust="spacingAndGlyphs">Seiten(-reihenfolge)</text>
<text x="804.44" y="2639.10" font-size="34.158" fill="#58585a" textLength="1368.07" lengthAdjust="spacingAndGlyphs">Hintergrundbilder, Farben, Verläufe und Grafiken sollten unbedingt bis an den Rand des</text>
<text x="804.42" y="2684.20" font-size="34.158" fill="#58585a" textLength="1469.24" lengthAdjust="spacingAndGlyphs">Datenformats angelegt werden, da produktionstechnisch kleinere Toleranzen beim Schneiden</text>
<text x="803.34" y="2728.90" font-size="34.158" fill="#58585a" textLength="631.78" lengthAdjust="spacingAndGlyphs">Ihres Druckproduktes auftreten können.</text>
<text x="804.46" y="2819.00" font-size="34.158" fill="#58585a" textLength="604.94" lengthAdjust="spacingAndGlyphs">Der Farbmodus Ihrer Druckdaten muss</text>
<text x="1417.93" y="2819.00" font-size="34.158" fill="#58585a" font-weight="bold" textLength="97.94" lengthAdjust="spacingAndGlyphs">CMYK</text>
<text x="1526.60" y="2819.00" font-size="34.158" fill="#58585a" textLength="776.70" lengthAdjust="spacingAndGlyphs">sein, da sonst nach dem Druckvorgang ein (leicht)</text>
<text x="806.50" y="2863.70" font-size="34.158" fill="#58585a" textLength="1419.53" lengthAdjust="spacingAndGlyphs">veränderter, optischer Gesamteindruck entstehen kann. (Daten im RGB-Farbmodus werden</text>
<text x="805.46" y="2908.50" font-size="34.158" fill="#58585a" textLength="443.40" lengthAdjust="spacingAndGlyphs">automatisch durch uns nach</text>
<text x="1257.43" y="2908.50" font-size="34.158" fill="#58585a" font-weight="bold" textLength="97.54" lengthAdjust="spacingAndGlyphs">CMYK</text>
<text x="1364.29" y="2908.50" font-size="34.158" fill="#58585a" textLength="190.15" lengthAdjust="spacingAndGlyphs">konvertiert.)</text>
<text x="804.42" y="2999.00" font-size="34.158" fill="#58585a" textLength="767.49" lengthAdjust="spacingAndGlyphs">Die Auflösung von Bildgrafiken sollte mindestens</text>
<text x="1583.10" y="2999.00" font-size="34.158" fill="#58585a" font-weight="bold" textLength="122.34" lengthAdjust="spacingAndGlyphs">300 dpi</text>
<text x="1715.35" y="2999.00" font-size="34.158" fill="#58585a" textLength="444.99" lengthAdjust="spacingAndGlyphs">betragen. Achten Sie darauf,</text>
<text x="805.47" y="3043.70" font-size="34.158" fill="#58585a" textLength="1470.60" lengthAdjust="spacingAndGlyphs">dass Sie für Ihre Druckvorlagen immer hochauflösende Bilder verwenden, da Ihr Druckprodukt</text>
<text x="805.46" y="3088.50" font-size="34.158" fill="#58585a" textLength="610.13" lengthAdjust="spacingAndGlyphs">andernfalls (leicht) pixelig wirken kann.</text>
<text x="805.48" y="3179.00" font-size="34.158" fill="#58585a" textLength="1443.95" lengthAdjust="spacingAndGlyphs">Speichern Sie Ihr Dokument im PDF-Format ab. Achten Sie darauf, Schriften einzubetten und</text>
<text x="804.47" y="3223.70" font-size="34.158" fill="#58585a" textLength="774.65" lengthAdjust="spacingAndGlyphs">(soweit als möglich) Transparenzen zu reduzieren.</text>
<text x="805.47" y="3315.20" font-size="34.158" fill="#58585a" textLength="1424.45" lengthAdjust="spacingAndGlyphs">Senden Sie mehrseitige Dokumente chronologisch in korrekter Reihenfolge als eine einzige</text>
<text x="804.42" y="3360.00" font-size="34.158" fill="#58585a" textLength="1528.17" lengthAdjust="spacingAndGlyphs">PDF-Datei oder benennen Sie Einzeldokumente entsprechend mit fortlaufenden Seitennummern.</text>
<rect x="0" y="3417.6" width="2480" height="90.4" fill="#c6c4c5"/>
<text x="2369.30" y="3475.70" font-size="35.756" fill="#58585a" textLength="76.80" lengthAdjust="spacingAndGlyphs">v. 1.0</text>
</svg></body></html>
